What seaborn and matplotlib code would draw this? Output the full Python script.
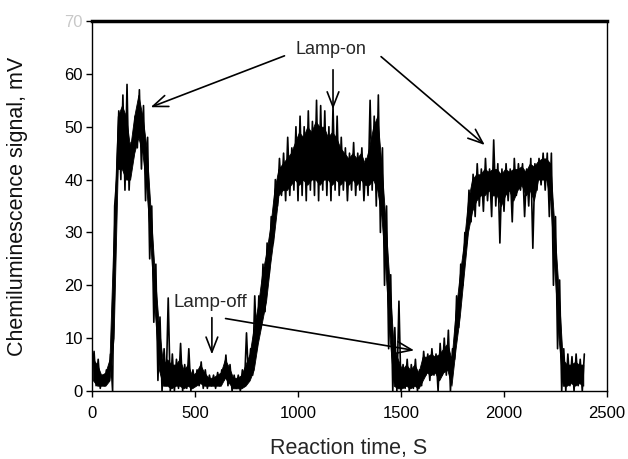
import numpy as np
import pandas as pd
import matplotlib
matplotlib.use("Agg")
import matplotlib.pyplot as plt
import seaborn as sns

# ---- data, one row every 20 s ----
bin_start = list(range(0, 2400, 20))

# outer reach of the noise spikes (low / high)
sig_lo = [3, 1, 0.5, 1, 2, 0, 40, 40, 38, 38,
          44, 46, 42, 36, 25, 13, 2, 0, 1, 0,
          0, 0.5, 0, 0.5, 0, 1, 1, 0.5, 0.5, 1,
          0.5, 1, 2, 1, 0, 0.5, 0, 1, 2, 3,
          8, 12, 15, 22, 28, 35, 37, 36, 37, 38,
          36, 37, 36, 38, 37, 36, 38, 37, 36, 38,
          37, 38, 36, 38, 37, 38, 36, 37, 38, 35,
          30, 20, 8, 0, 0, 0, 0.5, 0, 0.5, 0,
          1, 3, 2, 3, 0, 3, 3, 0, 6, 12,
          20, 28, 32, 33, 35, 34, 36, 33, 35, 28,
          34, 36, 32, 37, 38, 33, 35, 27, 38, 39,
          38, 33, 20, 8, 0, 0, 1, 0, 1, 0]
sig_hi = [7.5, 6, 3, 4, 7, 35, 53, 56, 58, 47,
          52, 57, 54, 48, 35, 24, 14, 8, 17.6, 7,
          6, 9, 5, 8, 4, 4, 5.5, 4, 3, 3,
          3.5, 4, 6.8, 5, 3, 3, 4, 11, 8, 18,
          18, 24, 28, 33, 40, 44, 45, 48, 46, 50,
          52, 50, 53, 51, 55, 54, 53, 50, 54, 52,
          48, 46, 45, 47, 45, 46, 44, 55, 52, 56,
          46, 35, 22, 12, 17, 5, 6, 5, 6, 4,
          7.5, 7, 8, 7, 9, 10, 11.5, 8, 18, 24,
          30, 38, 41, 43, 42, 44, 42, 47.5, 43, 42,
          43, 42, 44, 43, 43, 42, 44, 43, 44, 45,
          45, 45, 33, 21, 8, 7, 6.5, 7, 6, 7]

# dense (solid black) core of the trace
core_lo = [2, 1, 1, 1, 2, 10, 42, 42, 40, 40,
           45, 48, 45, 38, 27, 15, 4, 1, 1, 0.5,
           1, 1, 0.5, 1, 0.5, 1, 1.5, 1, 1, 1,
           1, 1, 2.5, 1.5, 0.5, 0.5, 0.5, 1, 2, 4,
           9, 13, 17, 24, 30, 37, 38, 38, 39, 40,
           39, 40, 39, 40, 40, 39, 40, 40, 39, 40,
           39, 40, 39, 40, 39, 40, 39, 39, 40, 38,
           33, 23, 10, 1, 0.5, 0.5, 1, 0.5, 1, 0.5,
           2, 3.5, 3, 3.5, 2, 3.5, 4, 1, 8, 14,
           22, 30, 34, 36, 37, 37, 38, 37, 37, 35,
           37, 38, 36, 38, 39, 37, 38, 36, 40, 40,
           40, 36, 23, 10, 1, 1, 1.5, 1, 1.5, 1]
core_hi = [6, 5, 3, 3.5, 6, 30, 52, 54, 52, 46,
           52, 56, 52, 46, 34, 22, 12, 5, 6, 5,
           5, 6, 4, 5, 3, 3.5, 5, 3.5, 2.5, 2.5,
           3, 3.5, 6, 4.5, 2.5, 2.5, 3, 5, 7, 12,
           16, 22, 26, 31, 38, 42, 43, 44, 45, 47,
           49, 48, 50, 49, 51, 50, 50, 48, 49, 48,
           46, 45, 44, 45, 44, 45, 43, 46, 50, 52,
           43, 32, 20, 8, 6, 4, 5, 4, 5, 3.5,
           6.5, 6.5, 7, 6.5, 7, 8, 9, 6, 15, 22,
           28, 36, 40, 41, 41, 42, 41.5, 42, 42, 41,
           42, 41.5, 42, 42, 42.5, 41.5, 43, 42.5, 43.5, 44,
           44, 43, 31, 19, 6, 5, 5, 5.5, 5, 5]

x_ticks = [0, 500, 1000, 1500, 2000, 2500]
y_ticks = [0, 10, 20, 30, 40, 50, 60, 70]

# zigzag between low and high inside each bin -> spiky noise
t = np.ravel(np.column_stack([bin_start, np.array(bin_start) + 10]))
y = np.ravel(np.column_stack([sig_lo, sig_hi]))
df = pd.DataFrame({"time": t, "signal": y})
core = pd.DataFrame({"time": np.array(bin_start) + 5, "lo": core_lo, "hi": core_hi})

sns.set_theme(style="ticks")
plt.rcParams['font.family'] = ['Liberation Sans', 'DejaVu Sans']

fig = plt.figure(figsize=(6.28, 4.59), dpi=100)
ax = fig.add_axes([92 / 628, 1 - 391 / 459, 515 / 628, 370 / 459])

ax.fill_between(core["time"], core["lo"], core["hi"], color="black", lw=0.6)
sns.lineplot(data=df, x="time", y="signal", ax=ax, color="black",
             linewidth=1.2, estimator=None, sort=False)

ax.set_xlim(0, 2500)
ax.set_ylim(0, 70)
ax.set_xticks(x_ticks)
ax.set_yticks(y_ticks)
ax.tick_params(axis="both", direction="out", length=4.5, width=1,
               labelsize=12, colors="black", pad=2)
ax.tick_params(axis="x", pad=6)
ax.get_yticklabels()[-1].set_color("#c8c8c8")

for s in ax.spines.values():
    s.set_color("black")
    s.set_linewidth(1)
ax.spines["top"].set_linewidth(2.5)

ax.set_xlabel("Reaction time, S", fontsize=15.5)
ax.set_ylabel("Chemiluminescence signal, mV", fontsize=15.5, color="#111111")
ax.xaxis.set_label_coords(0.498, -0.127)
ax.yaxis.set_label_coords(-0.125, 0.5)

arrow = dict(arrowstyle="->,head_length=0.9,head_width=0.35", color="black", lw=1.2)
ax.text(1158, 64.7, "Lamp-on", fontsize=13, ha="center", va="center")
ax.annotate("", xy=(272, 53.5), xytext=(947, 63.6), arrowprops=arrow)
ax.annotate("", xy=(1170, 52.8), xytext=(1170, 61.3), arrowprops=arrow)
ax.annotate("", xy=(1917, 46.2), xytext=(1393, 63.6), arrowprops=arrow)

ax.text(573, 16.8, "Lamp-off", fontsize=13.5, ha="center", va="center")
ax.annotate("", xy=(582, 6.4), xytext=(582, 14.4), arrowprops=arrow)
ax.annotate("", xy=(1577, 7.6), xytext=(635, 13.8), arrowprops=arrow)

fig.savefig("out.png", dpi=100, facecolor="white")
